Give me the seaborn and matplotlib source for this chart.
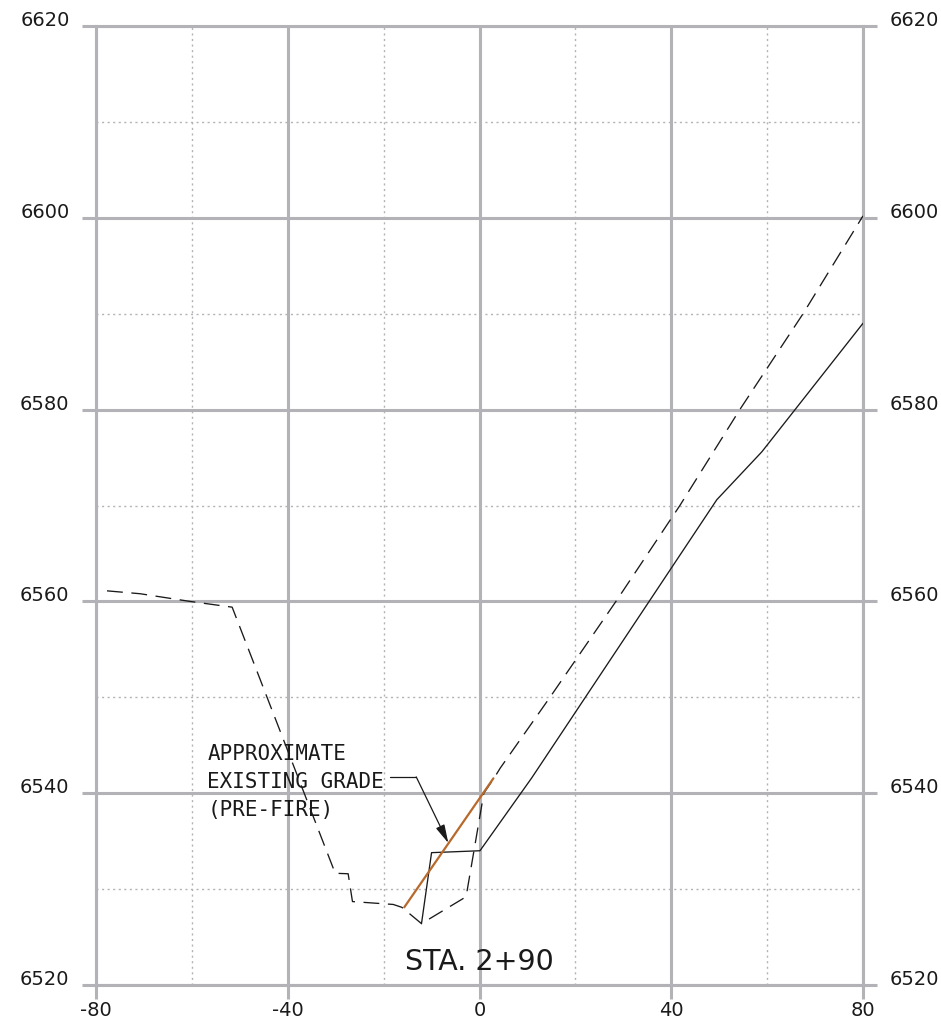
import matplotlib
matplotlib.use("Agg")
import matplotlib.pyplot as plt
import seaborn as sns
import pandas as pd
from matplotlib.ticker import MultipleLocator

# ---------------- data ----------------
existing_x = [-77.7, -70.8, -60.4, -51.6, -30.1, -27.4, -26.5, -18.0, -16.2, -12.1,
              -2.8, 0.9, 3.2, 4.3, 14.7, 28.6, 41.8, 54.3, 67.5, 80.0]
existing_y = [6561.1, 6560.8, 6560.0, 6559.4, 6531.65, 6531.6, 6528.7, 6528.4, 6528.1, 6526.4,
              6529.2, 6540.0, 6541.7, 6542.6, 6550.0, 6560.1, 6570.0, 6580.0, 6590.0, 6600.2]

proposed_x = [-12.1, -10.0, 0.1, 10.9, 49.5, 58.9, 80.0]
proposed_y = [6526.4, 6533.8, 6534.0, 6541.6, 6570.6, 6575.6, 6589.0]

prefire_x = [-15.7, 2.9]
prefire_y = [6528.1, 6541.55]

x_major_ticks = [-80, -40, 0, 40, 80]
y_major_ticks = [6520, 6540, 6560, 6580, 6600, 6620]

note_text = "APPROXIMATE\nEXISTING GRADE\n(PRE-FIRE)"
note_leader_x = [-18.7, -13.2]
note_leader_y = [6541.7, 6541.7]
note_tip = (-6.5, 6534.8)
station_label = "STA. 2+90"

# ---------------- style ----------------
sns.set_style("white")
plt.rcParams["font.family"] = ["DejaVu Sans"]
plt.rcParams["axes.unicode_minus"] = False

GRID = "#b3b3b7"
fig = plt.figure(figsize=(9.41, 10.26), dpi=100)
ax = fig.add_axes([96 / 941, 41 / 1026, 767 / 941, 959 / 1026])

df_exist = pd.DataFrame({"x": existing_x, "y": existing_y})
df_prop = pd.DataFrame({"x": proposed_x, "y": proposed_y})
df_pre = pd.DataFrame({"x": prefire_x, "y": prefire_y})

sns.lineplot(data=df_exist, x="x", y="y", sort=False, estimator=None, ax=ax,
             color="#1a1a1a", linewidth=0.95, linestyle=(0, (12, 6.5)), zorder=4)
sns.lineplot(data=df_prop, x="x", y="y", sort=False, estimator=None, ax=ax,
             color="#1a1a1a", linewidth=0.95, zorder=4)
sns.lineplot(data=df_pre, x="x", y="y", sort=False, estimator=None, ax=ax,
             color="#b8692c", linewidth=1.6, zorder=5)

ax.set_xlim(-80, 80)
ax.set_ylim(6520, 6620)
ax.set_xlabel("")
ax.set_ylabel("")

ax.set_xticks(x_major_ticks)
ax.set_yticks(y_major_ticks)
ax.xaxis.set_minor_locator(MultipleLocator(20))
ax.yaxis.set_minor_locator(MultipleLocator(10))

ax.grid(which="major", color=GRID, linewidth=2.2, linestyle="-", zorder=0)
ax.grid(which="minor", color=GRID, linewidth=1.0, linestyle=(0, (1.5, 2.5)), zorder=0)
ax.set_axisbelow(True)

for s in ax.spines.values():
    s.set_visible(True)
    s.set_color(GRID)
    s.set_linewidth(2.2)

ax.tick_params(axis="both", which="major", direction="out", length=10, width=2.2,
               color=GRID, labelsize=14, labelcolor="#1a1a1a")
ax.tick_params(axis="both", which="minor", length=0)
ax.tick_params(axis="x", which="major", pad=1.5, top=False, bottom=True)
ax.tick_params(axis="y", which="major", pad=9, left=True, right=True,
               labelleft=True, labelright=True)
for lab in ax.get_yticklabels(which="major"):
    lab.set_verticalalignment("baseline")

# annotation
ax.plot(note_leader_x, note_leader_y, color="#1a1a1a", linewidth=0.9, zorder=6)
ax.annotate("", xy=note_tip, xytext=(note_leader_x[-1], note_leader_y[-1]),
            arrowprops=dict(arrowstyle="-|>,head_length=0.8,head_width=0.2",
                            mutation_scale=14, color="#1a1a1a", lw=0.9,
                            shrinkA=0, shrinkB=0), zorder=6)
ax.text(-56.8, 6545.1, note_text, family="DejaVu Sans Mono", fontsize=15,
        ha="left", va="top", linespacing=1.5, color="#1a1a1a", zorder=6)

ax.text(0, 6521.6, station_label, fontsize=20.5, ha="center", va="baseline",
        color="#1a1a1a", zorder=6)

fig.savefig("out.png", dpi=100)
